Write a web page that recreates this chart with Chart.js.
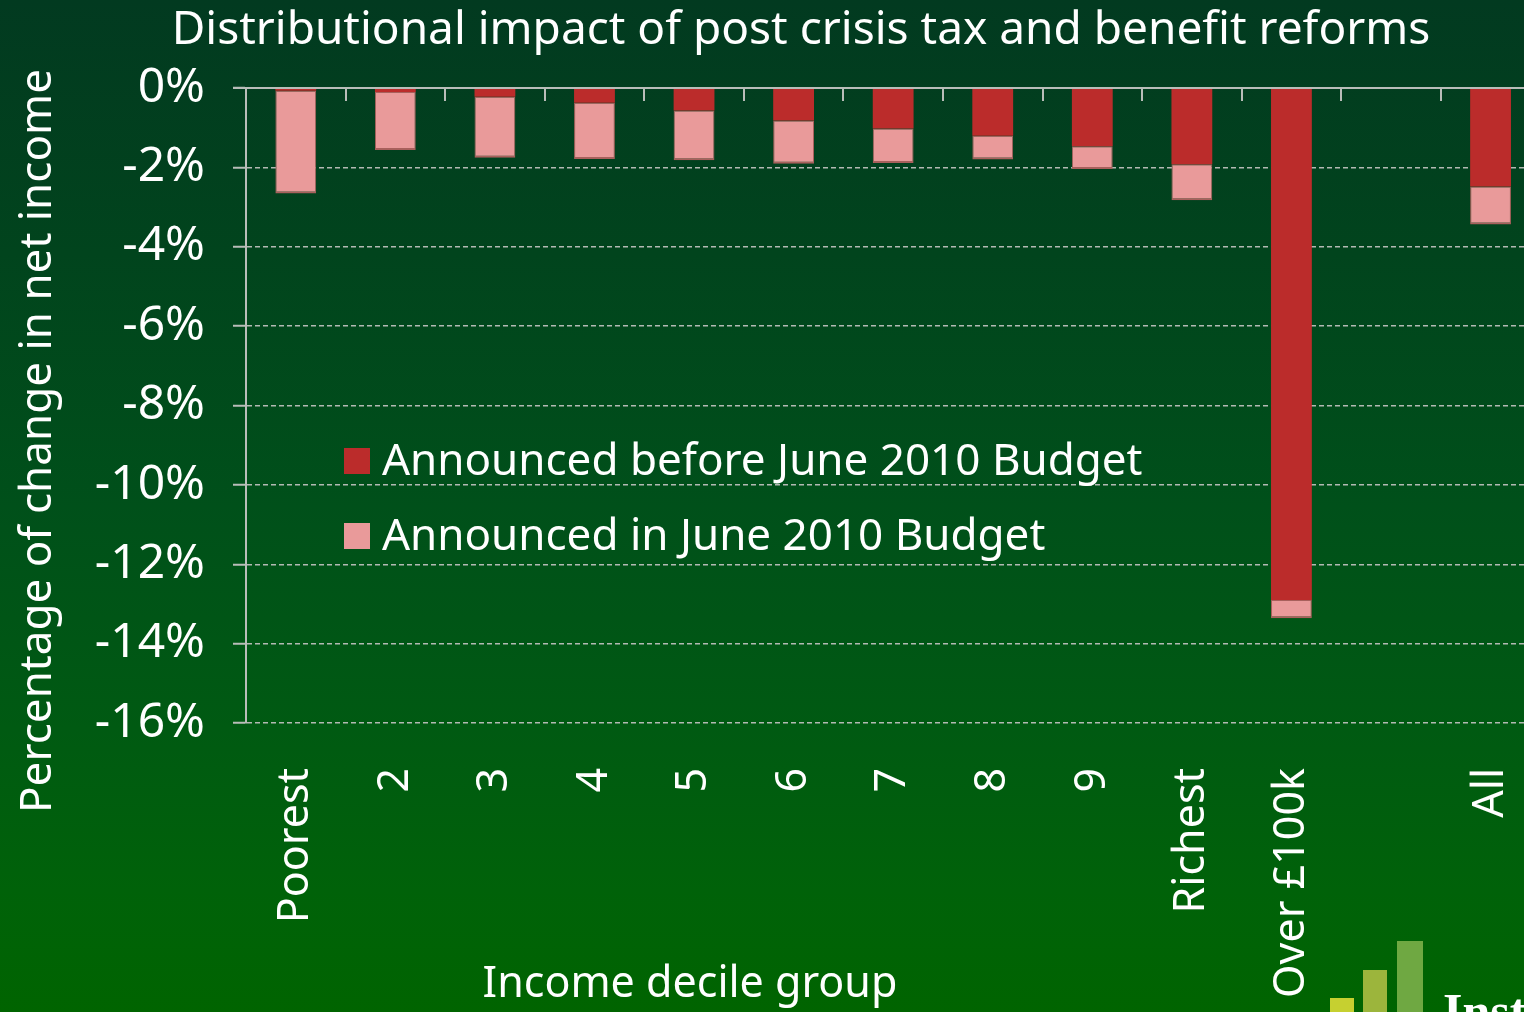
<!DOCTYPE html>
<html lang="en">
<head>
  <meta charset="UTF-8">
  <title>Distributional impact</title>
  <script src="https://cdn.jsdelivr.net/npm/chart.js"></script>
  <style>
body {
  margin: 0;
  padding: 0;
  overflow: hidden;
  width: 1524px;
  height: 1012px;
  background: linear-gradient(to bottom, #023a20 0%, #01441d 25%, #00501a 50%, #005a12 72%, #006209 88%, #006400 100%);
  font-family: 'Noto Sans', sans-serif;
}
.wrap {
  position: absolute;
  left: 0;
  top: 0;
  width: 1588px;
  height: 1012px;
}
  </style>
</head>
<body>
  <div class="wrap"><canvas id="chart"></canvas></div>

  <script>
    // chart data
    const categories = ['Poorest', '2', '3', '4', '5', '6', '7', '8', '9', 'Richest', 'Over £100k', '', 'All'];
    const beforeJune = [-0.07, -0.10, -0.22, -0.37, -0.57, -0.82, -1.02, -1.20, -1.47, -1.92, -12.90, null, -2.48];
    const inJune = [-2.59, -1.46, -1.54, -1.42, -1.25, -1.09, -0.87, -0.60, -0.57, -0.91, -0.46, null, -0.96];
    const yTicks = [0, -2, -4, -6, -8, -10, -12, -14, -16];

    const titleText = 'Distributional impact of post crisis tax and benefit reforms';
    const yTitle = 'Percentage of change in net income';
    const xTitle = 'Income decile group';
    const font = "'Noto Sans', sans-serif";

    // titles, legend, top axis line and tick marks
    const decorations = {
      id: 'decorations',
      afterDatasetsDraw(chart) {
        const ctx = chart.ctx;
        const area = chart.chartArea;
        const x = chart.scales.x;
        ctx.save();
        // solid zero line + tick marks between categories
        ctx.strokeStyle = '#b9bdb9';
        ctx.lineWidth = 2;
        ctx.beginPath();
        ctx.moveTo(area.left - 13, area.top);
        ctx.lineTo(area.right, area.top);
        const half = (x.getPixelForValue(1) - x.getPixelForValue(0)) / 2;
        for (let i = 0; i < categories.length - 1; i++) {
          const px = Math.round(x.getPixelForValue(i) + half);
          ctx.moveTo(px, area.top);
          ctx.lineTo(px, area.top + 13);
        }
        ctx.stroke();

        // legend inside plot
        ctx.font = '44px ' + font;
        ctx.textBaseline = 'middle';
        ctx.textAlign = 'left';
        chart.data.datasets.forEach((ds, i) => {
          const y = 448 + i * 75;
          ctx.fillStyle = ds.backgroundColor;
          ctx.fillRect(344, y, 26, 26);
          ctx.fillStyle = '#ffffff';
          ctx.fillText(ds.label, 382, y + 14);
        });
        ctx.restore();
      },
      afterDraw(chart) {
        const ctx = chart.ctx;
        ctx.save();
        ctx.fillStyle = '#ffffff';
        ctx.textAlign = 'center';
        ctx.textBaseline = 'middle';
        ctx.font = '46px ' + font;
        ctx.fillText(titleText, 801, 31);
        ctx.font = '43px ' + font;
        ctx.fillText(xTitle, 690, 985);
        ctx.font = '44px ' + font;
        ctx.translate(38, 441);
        ctx.rotate(-Math.PI / 2);
        ctx.fillText(yTitle, 0, 0);
        ctx.restore();

        // logo corner
        ctx.save();
        ctx.fillStyle = '#c6d030';
        ctx.fillRect(1330, 998, 24, 14);
        ctx.fillStyle = '#9cb53c';
        ctx.fillRect(1363, 970, 24, 42);
        ctx.fillStyle = '#6fa842';
        ctx.fillRect(1397, 941, 26, 71);
        ctx.fillStyle = '#ffffff';
        ctx.font = "bold 50px 'Liberation Serif', serif";
        ctx.textAlign = 'left';
        ctx.textBaseline = 'alphabetic';
        ctx.fillText('Inst', 1443, 1028);
        ctx.restore();
      }
    };

    new Chart(document.getElementById('chart'), {
      type: 'bar',
      data: {
        labels: categories,
        datasets: [{
          label: 'Announced before June 2010 Budget',
          data: beforeJune,
          backgroundColor: '#bb2c2b',
          borderColor: '#a33a36',
          borderWidth: 0
        }, {
          label: 'Announced in June 2010 Budget',
          data: inJune,
          backgroundColor: '#e99a9a',
          borderColor: '#a8605c',
          borderWidth: { top: 1, bottom: 2, left: 1, right: 1 },
          borderSkipped: false
        }]
      },
      options: {
        responsive: true,
        maintainAspectRatio: false,
        animation: false,
        layout: { padding: { top: 88, left: 0, right: 22, bottom: 0 } },
        plugins: {
          legend: { display: false },
          title: { display: false },
          tooltip: { enabled: false }
        },
        datasets: {
          bar: { barPercentage: 0.41, categoryPercentage: 1.0 }
        },
        scales: {
          x: {
            stacked: true,
            grid: { display: false, drawTicks: false },
            border: { display: false },
            ticks: {
              color: '#ffffff',
              font: { family: font, size: 43 },
              minRotation: 90,
              maxRotation: 90,
              padding: 45,
              autoSkip: false
            },
            afterFit: (scale) => { scale.height = 289; }
          },
          y: {
            stacked: true,
            min: -16,
            max: 0,
            afterBuildTicks: (scale) => { scale.ticks = yTicks.map(v => ({ value: v })); },
            grid: {
              color: '#b3b9b3',
              lineWidth: 1.5,
              drawTicks: true,
              tickLength: 13,
              tickColor: '#b9bdb9',
              tickWidth: 2
            },
            border: { display: true, color: '#b9bdb9', width: 2, dash: [5, 3] },
            ticks: {
              color: '#ffffff',
              font: { family: font, size: 48 },
              padding: 28,
              callback: (v) => v + '%'
            },
            afterFit: (scale) => { scale.width = 246; }
          }
        }
      },
      plugins: [decorations]
    });
  </script>
</body>
</html>
